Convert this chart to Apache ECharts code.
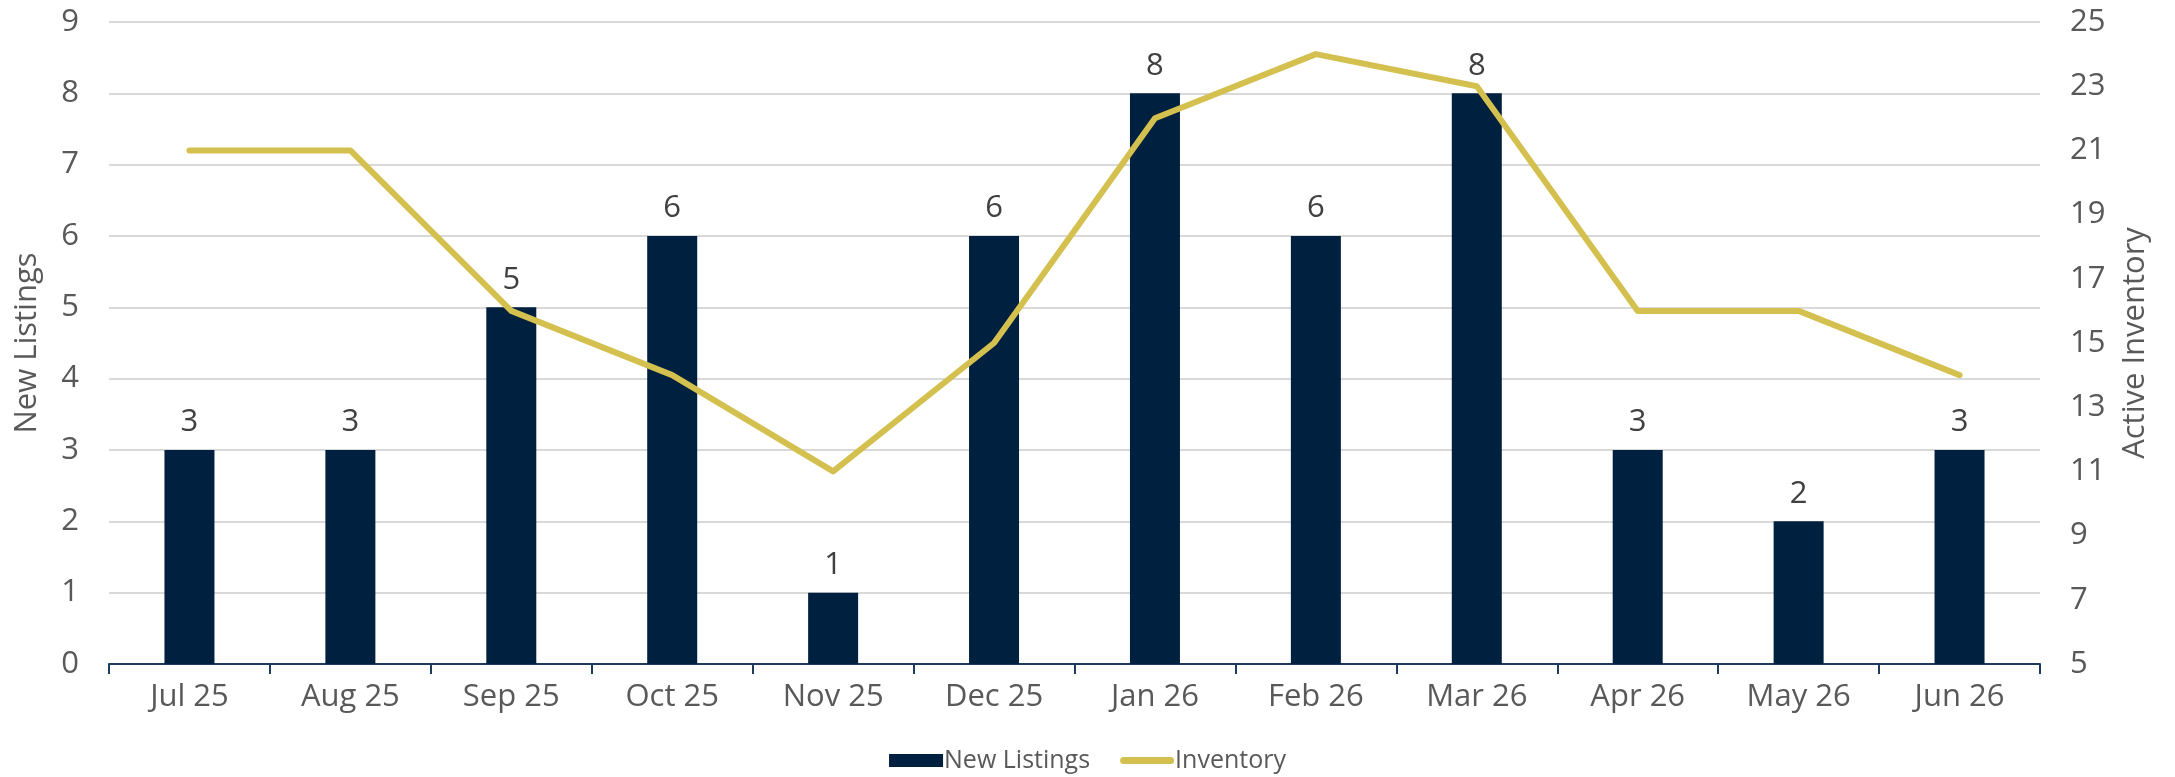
<!DOCTYPE html>
<html>
<head>
<meta charset="utf-8">
<script src="https://cdn.jsdelivr.net/npm/echarts@6/dist/echarts.min.js"></script>
<style>
  html, body { margin: 0; padding: 0; background: #fff; }
  #chart { width: 2175px; height: 777px; }
</style>
</head>
<body>
<div id="chart"></div>
<script>
// data
const months = ['Jul 25', 'Aug 25', 'Sep 25', 'Oct 25', 'Nov 25', 'Dec 25',
  'Jan 26', 'Feb 26', 'Mar 26', 'Apr 26', 'May 26', 'Jun 26']
const newListings = [3, 3, 5, 6, 1, 6, 8, 6, 8, 3, 2, 3]
const inventory = [21, 21, 16, 14, 11, 15, 22, 24, 23, 16, 16, 14]

const font = 'Open Sans'
const labelColor = '#595959'
const navy = '#00203F'
const gold = '#D4C04E'

const chart = echarts.init(document.getElementById('chart'))
chart.setOption({
  animation: false,
  textStyle: {fontFamily: font},
  grid: {left: 109, right: 135, top: 22, bottom: 113},
  legend: {
    top: 743,
    left: 'center',
    itemGap: 30,
    itemWidth: 54,
    itemHeight: 13,
    textStyle: {fontFamily: font, fontSize: 25, color: labelColor, padding: [0, 0, 0, -4]},
    data: [
      {name: 'New Listings', icon: 'rect'},
      // thin rounded stroke, bounding box kept at 54x13
      {name: 'Inventory', icon: 'path://M0,0 M54,13 M3.5,3 L50.5,3 A3.5,3.5 0 0 1 50.5,10 L3.5,10 A3.5,3.5 0 0 1 3.5,3 Z'}
    ]
  },
  xAxis: [{
    type: 'category',
    data: months,
    axisLine: {lineStyle: {color: '#1F3A5F', width: 2}},
    axisTick: {show: true, length: 10, lineStyle: {color: '#1F3A5F', width: 2}},
    axisLabel: {fontSize: 31, color: labelColor, margin: 18}
  }],
  yAxis: [
    {
      type: 'value',
      name: 'New Listings',
      nameLocation: 'middle',
      nameGap: 66,
      nameTextStyle: {fontSize: 31, color: labelColor},
      min: 0,
      max: 9,
      interval: 1,
      axisLabel: {fontSize: 31, color: labelColor, margin: 30},
      splitLine: {lineStyle: {color: '#D9D9D9', width: 2}}
    },
    {
      type: 'value',
      name: 'Active Inventory',
      nameLocation: 'middle',
      nameGap: 80,
      nameRotate: 90,
      nameTextStyle: {fontSize: 31, color: labelColor},
      min: 5,
      max: 25,
      interval: 2,
      axisLabel: {fontSize: 31, color: labelColor, margin: 30},
      splitLine: {show: false}
    }
  ],
  series: [
    {
      name: 'New Listings',
      type: 'bar',
      data: newListings,
      barWidth: 50,
      itemStyle: {color: navy},
      label: {show: true, position: 'top', distance: 12, fontSize: 31, color: '#404040'}
    },
    {
      name: 'Inventory',
      type: 'line',
      yAxisIndex: 1,
      data: inventory,
      symbol: 'none',
      lineStyle: {color: gold, width: 6, cap: 'round', join: 'round'},
      itemStyle: {color: gold}
    }
  ]
})
</script>
</body>
</html>
